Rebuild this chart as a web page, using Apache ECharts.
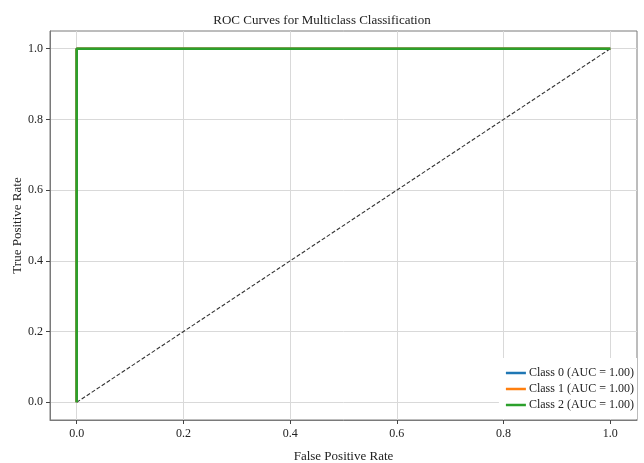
<!DOCTYPE html>
<html>
<head>
<meta charset="utf-8">
<script src="https://cdn.jsdelivr.net/npm/echarts@6/dist/echarts.min.js"></script>
<style>
  html, body { margin: 0; padding: 0; background: #fff; }
  #chart { width: 644px; height: 463px; }
</style>
</head>
<body>
<div id="chart"></div>
<script>
// ROC points (false positive rate, true positive rate) for each class
const classNames = ['Class 0', 'Class 1', 'Class 2'];
const classAuc = [1.00, 1.00, 1.00];
const fprClass0 = [0.0, 0.0, 1.0];
const tprClass0 = [0.0, 1.0, 1.0];
const fprClass1 = [0.0, 0.0, 1.0];
const tprClass1 = [0.0, 1.0, 1.0];
const fprClass2 = [0.0, 0.0, 1.0];
const tprClass2 = [0.0, 1.0, 1.0];
// chance line
const chanceX = [0.0, 1.0];
const chanceY = [0.0, 1.0];
// tick positions on both axes
const tickValues = [0.0, 0.2, 0.4, 0.6, 0.8, 1.0];

const classColors = ['#1f77b4', '#ff7f0e', '#2ca02c'];
const fprAll = [fprClass0, fprClass1, fprClass2];
const tprAll = [tprClass0, tprClass1, tprClass2];

const serif = 'Liberation Serif, Times New Roman, serif';

const zip = (xs, ys) => xs.map((x, i) => [x, ys[i]]);

const rocSeries = classNames.map((name, i) => ({
  name: `${name} (AUC = ${classAuc[i].toFixed(2)})`,
  type: 'line',
  data: zip(fprAll[i], tprAll[i]),
  showSymbol: false,
  symbol: 'none',
  lineStyle: { color: classColors[i], width: 2.6 },
  itemStyle: { color: classColors[i] },
  z: 3 + i,
  animation: false
}));

const axisCommon = {
  type: 'value',
  min: -0.05,
  max: 1.05,
  nameLocation: 'middle',
  nameMoveOverlap: false,
  nameTextStyle: { fontFamily: serif, fontSize: 13, color: '#222' },
  axisLine: { show: true, onZero: false, lineStyle: { color: '#7a7a7a', width: 1 } },
  axisTick: { show: true, length: 4, inside: false, customValues: tickValues, lineStyle: { color: '#444' } },
  axisLabel: {
    customValues: tickValues,
    fontFamily: serif, fontSize: 12, color: '#222',
    formatter: v => v.toFixed(1)
  },
  splitLine: { show: true, lineStyle: { color: '#d9d9d9', width: 1 } }
};

const chart = echarts.init(document.getElementById('chart'), null, { renderer: 'canvas' });
chart.setOption({
  animation: false,
  backgroundColor: '#fff',
  title: {
    text: 'ROC Curves for Multiclass Classification',
    left: 'center',
    top: 9,
    textStyle: { fontFamily: serif, fontSize: 13, fontWeight: 'normal', color: '#222' }
  },
  grid: {
    left: 50, right: 7, top: 31, bottom: 43,
    outerBoundsMode: 'none',
    containLabel: false,
    show: true, borderColor: '#7a7a7a', borderWidth: 1, backgroundColor: 'transparent'
  },
  xAxis: Object.assign({}, axisCommon, {
    name: 'False Positive Rate',
    nameGap: 30,
    axisLabel: Object.assign({}, axisCommon.axisLabel, { margin: 8 })
  }),
  yAxis: Object.assign({}, axisCommon, {
    name: 'True Positive Rate',
    nameGap: 26,
    axisLabel: Object.assign({}, axisCommon.axisLabel, { margin: 7 })
  }),
  legend: {
    orient: 'vertical',
    right: 7,
    bottom: 44,
    padding: [9, 3, 8, 7],
    backgroundColor: '#fff',
    itemWidth: 20,
    itemHeight: 2.5,
    itemGap: 4,
    icon: 'rect',
    textStyle: { fontFamily: serif, fontSize: 12, color: '#222', padding: [0, 0, 0, -2] },
    data: rocSeries.map(s => s.name)
  },
  series: [
    {
      name: 'chance',
      type: 'line',
      data: zip(chanceX, chanceY),
      showSymbol: false,
      symbol: 'none',
      lineStyle: { color: '#333', width: 1.1, type: [4, 2] },
      z: 2,
      animation: false
    }
  ].concat(rocSeries)
});
</script>
</body>
</html>
